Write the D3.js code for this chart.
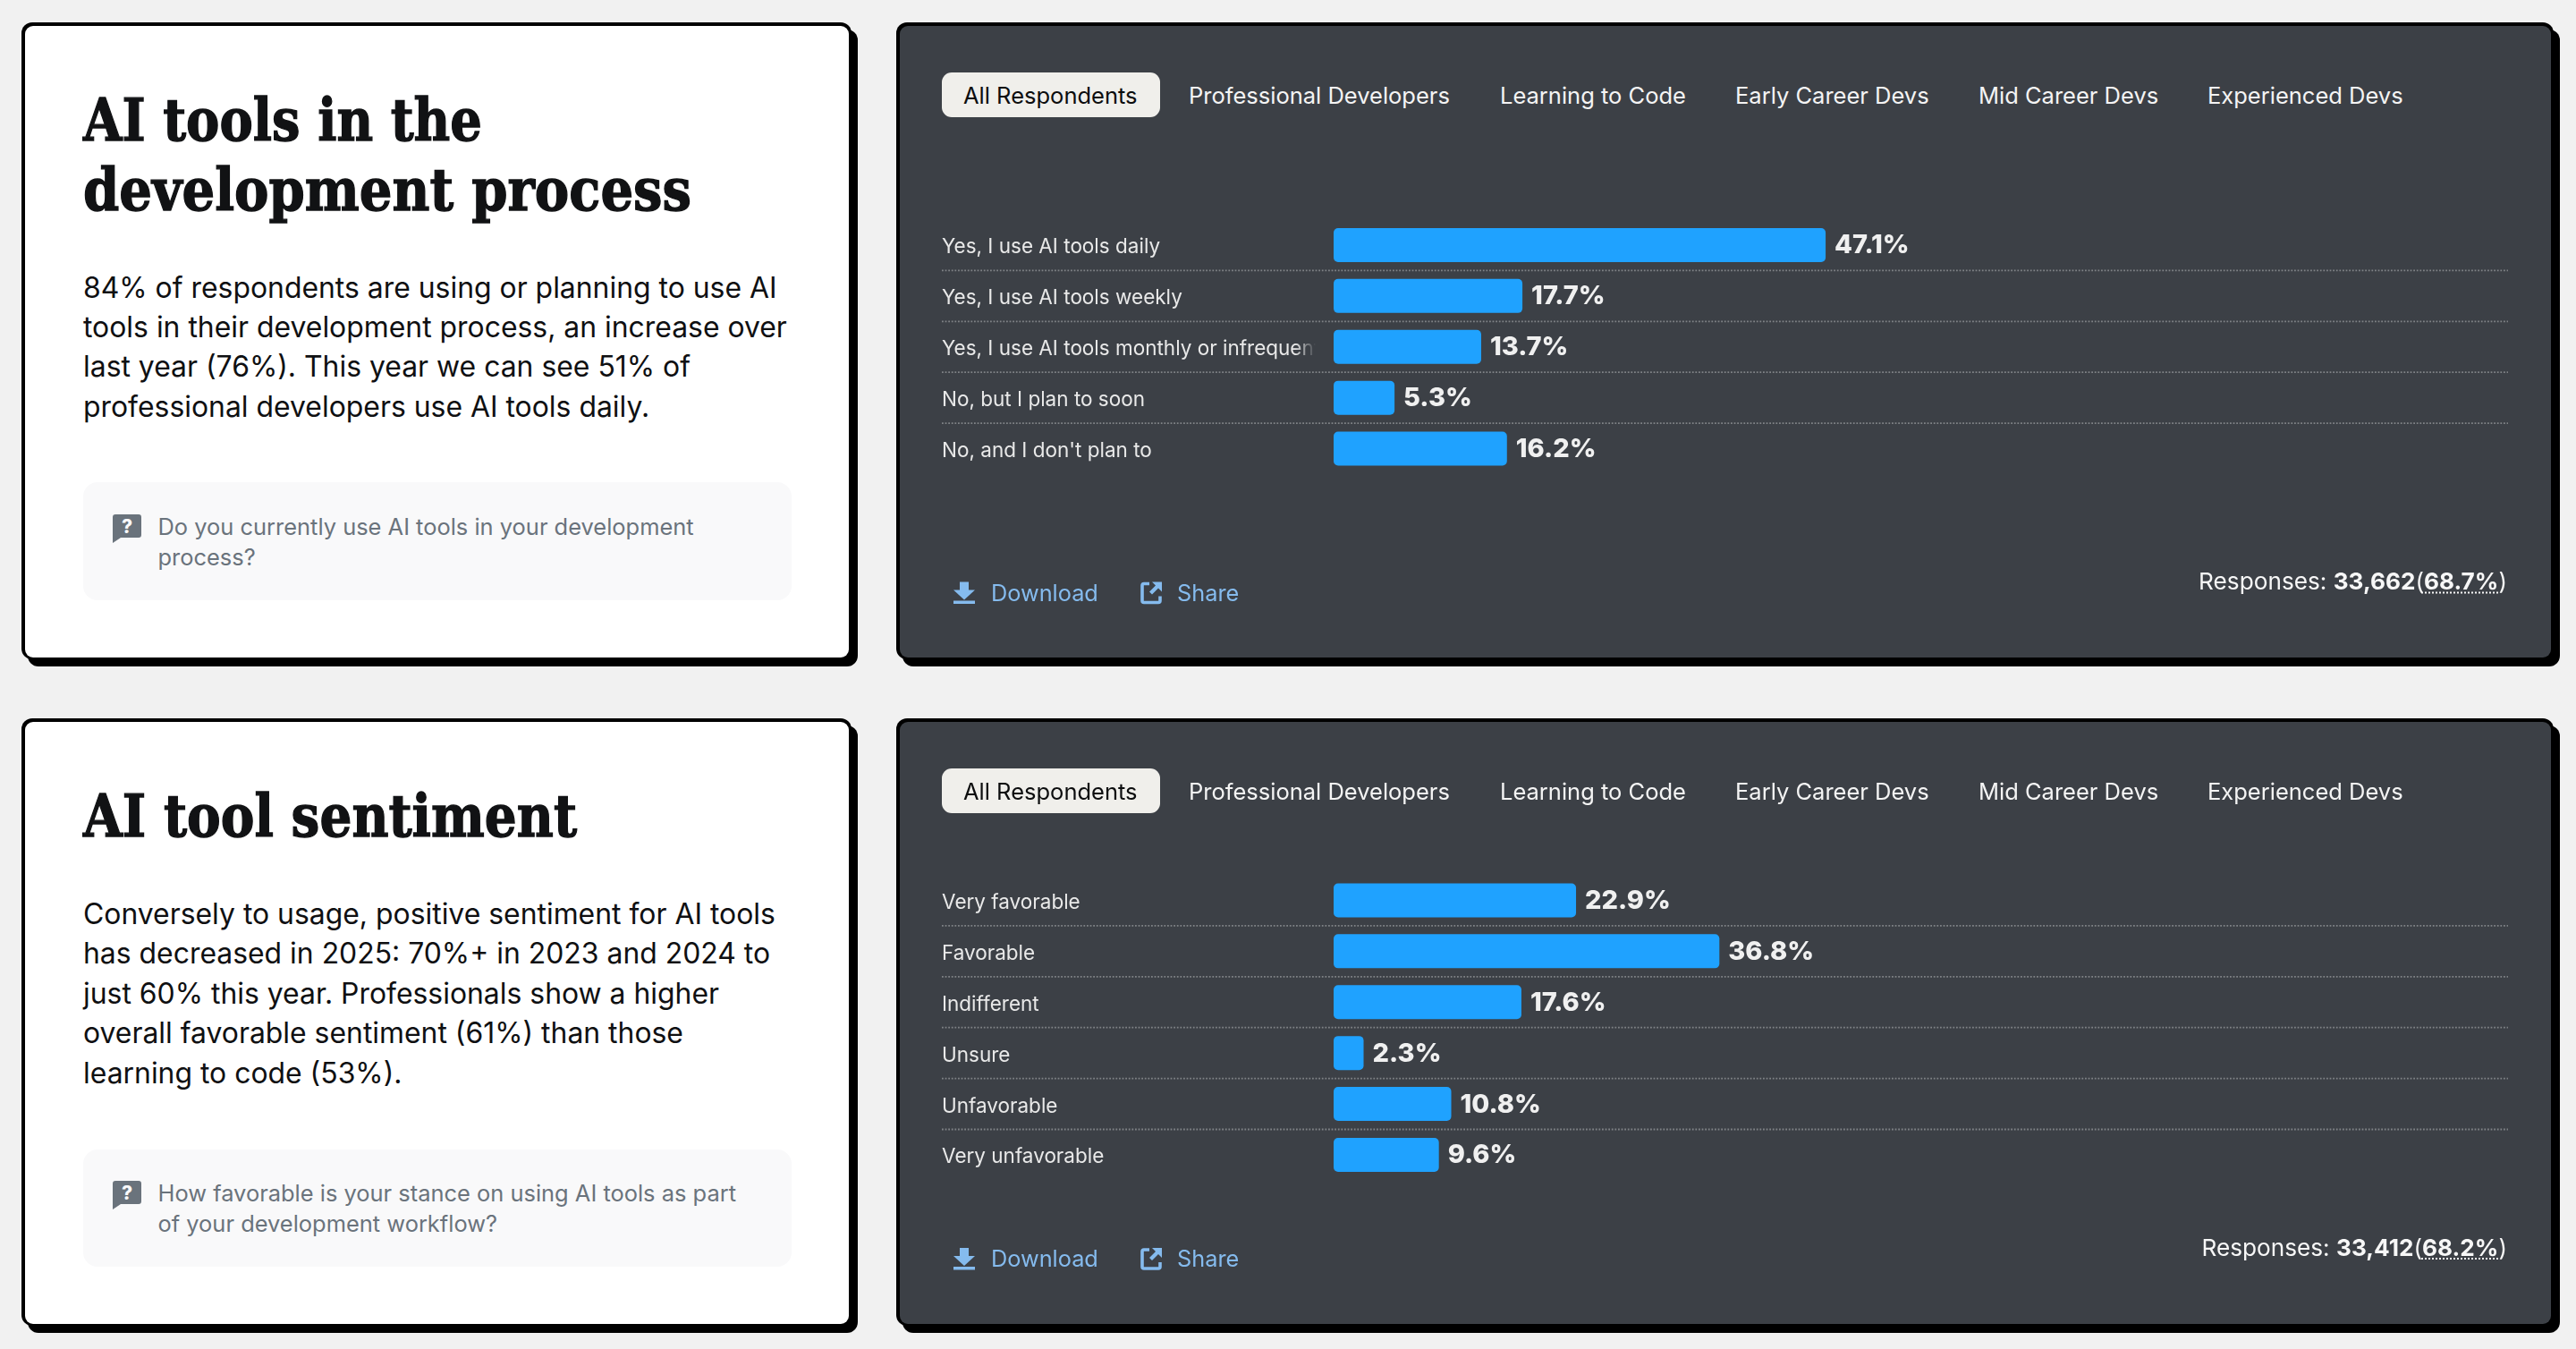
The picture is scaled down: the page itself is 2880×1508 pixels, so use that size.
<!DOCTYPE html>
<html>
<head>
<meta charset="utf-8">
<title>AI tools</title>
<script src="https://cdn.jsdelivr.net/npm/d3@7"></script>
<style>
  html, body { margin: 0; padding: 0; background: #f1f1f1; }
  svg { display: block; }
  text { font-family: Inter, "Noto Sans", sans-serif; }
  .title { font-family: "DejaVu Serif", serif; font-weight: 700; fill: #111214; stroke: #111214; stroke-width: 1.4px; font-size: 66px; }
  .body { fill: #0f1012; font-size: 31.9px; }
  .question { fill: #6a737c; font-size: 25.45px; }
  .tab { fill: #f4f4f4; font-size: 25.5px; }
  .label { fill: #e9e9e9; font-size: 22.5px; }
  .value { fill: #f0f0f0; font-size: 29px; font-weight: 800; }
  .link { fill: #85bbee; font-size: 25.3px; }
  .resp { fill: #f7f7f7; font-size: 26.2px; }
</style>
</head>
<body>
<svg id="chart" width="2880" height="1508"></svg>
<script>
// tabs are the same on both panels
var tabs = ["All Respondents", "Professional Developers", "Learning to Code", "Early Career Devs", "Mid Career Devs", "Experienced Devs"];
var tabX = [1077, 1329, 1677, 1940, 2212, 2468];

// usage chart
var usageCategories = ["Yes, I use AI tools daily", "Yes, I use AI tools weekly", "Yes, I use AI tools monthly or infrequently", "No, but I plan to soon", "No, and I don't plan to"];
var usageValues = [47.1, 17.7, 13.7, 5.3, 16.2];

// sentiment chart
var sentimentCategories = ["Very favorable", "Favorable", "Indifferent", "Unsure", "Unfavorable", "Very unfavorable"];
var sentimentValues = [22.9, 36.8, 17.6, 2.3, 10.8, 9.6];

var usageTitle = ["AI tools in the", "development process"];
var usageTitleWidth = [446, 680];
var usageBody = ["84% of respondents are using or planning to use AI", "tools in their development process, an increase over", "last year (76%). This year we can see 51% of", "professional developers use AI tools daily."];
var usageQuestion = ["Do you currently use AI tools in your development", "process?"];

var sentimentTitle = ["AI tool sentiment"];
var sentimentTitleWidth = [552];
var sentimentBody = ["Conversely to usage, positive sentiment for AI tools", "has decreased in 2025: 70%+ in 2023 and 2024 to", "just 60% this year. Professionals show a higher", "overall favorable sentiment (61%) than those", "learning to code (53%)."];
var sentimentQuestion = ["How favorable is your stance on using AI tools as part", "of your development workflow?"];

var svg = d3.select("#chart");
var defs = svg.append("defs");

// fade for labels that run into the bars
var grad = defs.append("linearGradient").attr("id", "fade").attr("gradientUnits", "userSpaceOnUse")
    .attr("x1", 1448).attr("x2", 1471).attr("y1", 0).attr("y2", 0);
grad.append("stop").attr("offset", 0).attr("stop-color", "#fff");
grad.append("stop").attr("offset", 1).attr("stop-color", "#000");
defs.append("mask").attr("id", "labelFade").attr("maskUnits", "userSpaceOnUse")
    .attr("x", 1040).attr("y", 0).attr("width", 440).attr("height", 1508)
    .append("rect").attr("x", 1040).attr("y", 0).attr("width", 440).attr("height", 1508).attr("fill", "url(#fade)");

// bars start 7px left of the zero value, same as the reference
var x = d3.scaleLinear().domain([0, 100]).range([1498, 2651]);
var barLeft = 1491;

function card(left, top, right, bottom, fill) {
    // shadow, then border, then fill
    svg.append("rect").attr("x", left + 7).attr("y", top + 8).attr("width", right - left).attr("height", bottom - top)
        .attr("rx", 12).attr("fill", "#000");
    svg.append("rect").attr("x", left).attr("y", top).attr("width", right - left).attr("height", bottom - top)
        .attr("rx", 12).attr("fill", "#000");
    svg.append("rect").attr("x", left + 4).attr("y", top + 4).attr("width", right - left - 7).attr("height", bottom - top - 6)
        .attr("rx", 9).attr("fill", fill);
}

function drawText(o) {
    card(24, o.top, 952, o.bottom, "#fff");

    o.title.forEach((t, i) => {
        svg.append("text").attr("class", "title").attr("x", 93).attr("y", o.titleY + i * 78)
            .attr("textLength", o.titleWidth[i]).attr("lengthAdjust", "spacingAndGlyphs").text(t);
    });
    o.body.forEach((t, i) => {
        svg.append("text").attr("class", "body").attr("x", 93).attr("y", o.bodyY + i * 44.4).text(t);
    });

    svg.append("rect").attr("x", 93).attr("y", o.boxTop).attr("width", 792).attr("height", o.boxH)
        .attr("rx", 16).attr("fill", "#f9f9fa");

    // question bubble
    var g = svg.append("g").attr("transform", `translate(126,${o.iconY})`);
    g.append("path").attr("fill", "#6a737c")
        .attr("d", "M3 0H29a3 3 0 0 1 3 3V23a3 3 0 0 1-3 3H9L0 32V3a3 3 0 0 1 3-3Z");
    g.append("text").attr("x", 16).attr("y", 21).attr("text-anchor", "middle")
        .attr("fill", "#f9f9fa").style("font-size", "21px").style("font-weight", 800).text("?");

    o.question.forEach((t, i) => {
        svg.append("text").attr("class", "question").attr("x", 176.5).attr("y", o.questionY + i * o.questionStep).text(t);
    });
}

function drawPanel(o) {
    card(1002, o.top, 2855, o.bottom, "#3c4046");

    // tabs
    svg.append("rect").attr("x", 1053).attr("y", o.top + 56).attr("width", 244).attr("height", 50)
        .attr("rx", 11).attr("fill", "#f0efeb");
    tabs.forEach((t, i) => {
        svg.append("text").attr("class", "tab").attr("x", tabX[i]).attr("y", o.top + 90.8)
            .style("fill", i == 0 ? "#0c0d0e" : null).text(t);
    });

    var rowStep = 56.9;
    var y = d3.scaleBand().domain(o.categories)
        .range([o.plotTop, o.plotTop + o.categories.length * rowStep])
        .paddingInner(0.332).paddingOuter(0.166);
    var gap = y.step() - y.bandwidth();

    // dotted separators between rows
    svg.append("g").selectAll("line").data(o.categories.slice(0, -1)).join("line")
        .attr("x1", 1053).attr("x2", 2804)
        .attr("y1", d => y(d) + y.bandwidth() + gap / 2)
        .attr("y2", d => y(d) + y.bandwidth() + gap / 2)
        .attr("stroke", "#7f8286").attr("stroke-width", 1.8).attr("stroke-dasharray", "1.8 1.8");

    // category labels come from the axis, mask sits on an untranslated wrapper
    var axis = svg.append("g").attr("mask", "url(#labelFade)").append("g").attr("transform", "translate(1053,0)")
        .call(d3.axisLeft(y).tickSize(0).tickPadding(0));
    axis.select(".domain").remove();
    axis.selectAll("text").attr("class", "label").attr("text-anchor", "start")
        .attr("x", 0).attr("dy", null).attr("y", 9.5).attr("fill", null);

    svg.append("g").selectAll("rect").data(o.values).join("rect")
        .attr("x", barLeft)
        .attr("y", (d, i) => y(o.categories[i]))
        .attr("width", d => x(d) - barLeft)
        .attr("height", y.bandwidth())
        .attr("rx", 5).attr("fill", "#1fa2ff");

    svg.append("g").selectAll("text").data(o.values).join("text")
        .attr("class", "value")
        .attr("x", d => x(d) + 10)
        .attr("y", (d, i) => y(o.categories[i]) + 28.5)
        .text(d => d3.format(".1f")(d) + "%");

    // footer links
    var dl = svg.append("g").attr("transform", `translate(1066,${o.linkY - 21})`).attr("fill", "#85bbee");
    dl.append("path").attr("d", "M7 0H17V9H24L12 20L0 9H7Z");
    dl.append("rect").attr("x", 0).attr("y", 21).attr("width", 24).attr("height", 3.5);
    svg.append("text").attr("class", "link").attr("x", 1108).attr("y", o.linkY).text("Download");

    var sh = svg.append("g").attr("transform", `translate(1275,${o.linkY - 21})`);
    sh.append("path").attr("fill", "none").attr("stroke", "#85bbee").attr("stroke-width", 3.6)
        .attr("d", "M10 2H4a2 2 0 0 0-2 2V21a2 2 0 0 0 2 2H20a2 2 0 0 0 2-2V16");
    sh.append("path").attr("fill", "#85bbee").attr("d", "M13 0H24V11L20 7L13 14L10 11L17 4Z");
    svg.append("text").attr("class", "link").attr("x", 1316).attr("y", o.linkY).text("Share");

    // responses, right aligned to the separators
    var r = svg.append("text").attr("class", "resp").attr("x", 2803).attr("y", o.respY).attr("text-anchor", "end");
    r.append("tspan").text("Responses: ");
    r.append("tspan").style("font-weight", 700).text(o.count);
    r.append("tspan").text("(");
    r.append("tspan").style("font-weight", 700).text(o.share);
    r.append("tspan").text(")");
    svg.append("line").attr("x1", 2707).attr("x2", 2795).attr("y1", o.respY + 3.5).attr("y2", o.respY + 3.5)
        .attr("stroke", "#f7f7f7").attr("stroke-width", 1.8).attr("stroke-dasharray", "2 2");
}

drawText({top: 25, bottom: 737, title: usageTitle, titleWidth: usageTitleWidth, titleY: 156.5, body: usageBody, bodyY: 332.5,
    boxTop: 539, boxH: 132, iconY: 575, question: usageQuestion, questionY: 598, questionStep: 34});
drawText({top: 803, bottom: 1482, title: sentimentTitle, titleWidth: sentimentTitleWidth, titleY: 934.5, body: sentimentBody, bodyY: 1033,
    boxTop: 1285, boxH: 131, iconY: 1320, question: sentimentQuestion, questionY: 1343, questionStep: 34});

drawPanel({top: 25, bottom: 737, categories: usageCategories, values: usageValues, plotTop: 245.5,
    linkY: 671.5, respY: 659, count: "33,662", share: "68.7%"});
drawPanel({top: 803, bottom: 1482, categories: sentimentCategories, values: sentimentValues, plotTop: 978,
    linkY: 1416, respY: 1403.5, count: "33,412", share: "68.2%"});
</script>
</body>
</html>
